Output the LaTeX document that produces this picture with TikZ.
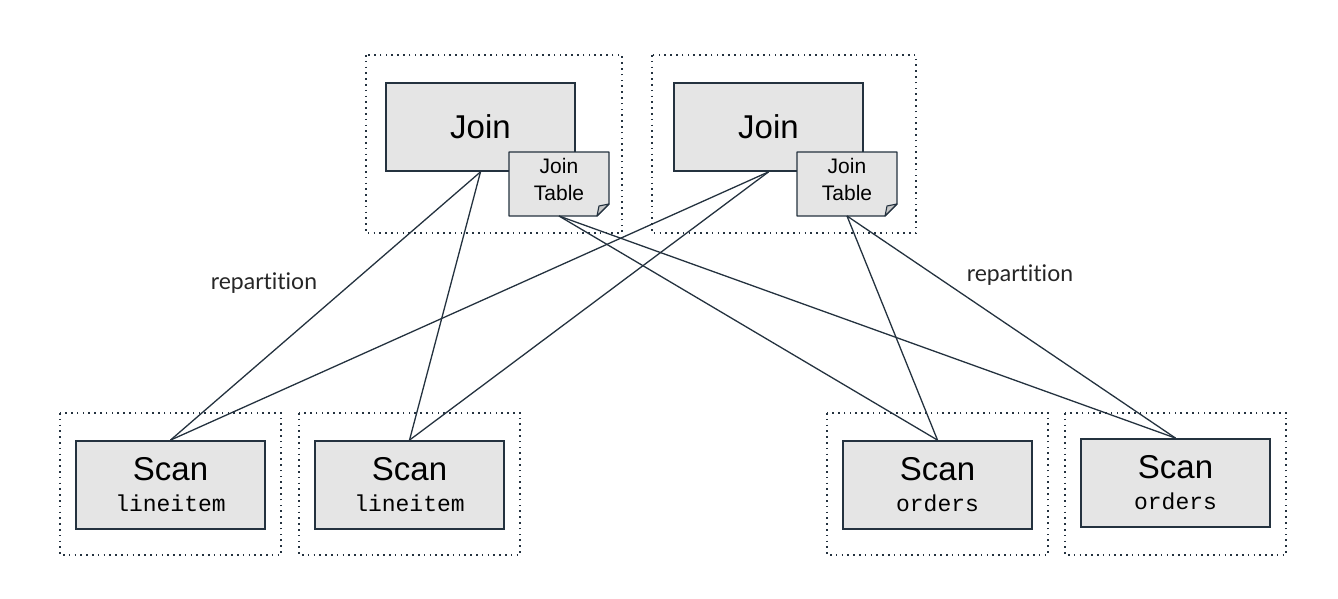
\documentclass[tikz,border=0pt]{standalone}
\usepackage{fontspec}
\setmainfont{Liberation Sans}
\newfontfamily\labelfont[Ligatures=NoCommon]{Lato}
\setmonofont{Liberation Mono}
\definecolor{ink}{HTML}{24323F}
\definecolor{boxfill}{HTML}{E5E5E5}
\definecolor{foldfill}{HTML}{C8C8C8}
\begin{document}
\begin{tikzpicture}[x=1pt,y=-1pt,
  frame/.style={draw=ink,line width=1.6pt,dash pattern=on 1.6pt off 4.2pt},
  opbox/.style={draw=ink,fill=boxfill,line width=1.8pt,minimum width=189pt,minimum height=88pt,inner sep=0pt,align=center},
  notetext/.style={inner sep=0pt,align=center,font=\fontsize{21pt}{27pt}\selectfont},
  conn/.style={draw=ink,line width=1.3pt},
  lbl/.style={font=\labelfont\fontsize{23pt}{26pt}\selectfont,text=black!85}
]
\useasboundingbox (0,0) rectangle (1338,599);
% frames
\draw[frame] (366,55) rectangle (622,233);
\draw[frame] (652,55) rectangle (916,233);
\draw[frame] (60,413) rectangle (281,555);
\draw[frame] (299,413) rectangle (520,555);
\draw[frame] (827,413) rectangle (1048,555);
\draw[frame] (1065,413) rectangle (1286,555);
% join boxes
\node[opbox,font=\fontsize{33pt}{36pt}\selectfont] (j1) at (480.5,127) {Join};
\node[opbox,font=\fontsize{33pt}{36pt}\selectfont] (j2) at (768.5,127) {Join};
% notes
\foreach \n/\x in {n1/509,n2/797}{
  \fill[boxfill] (\x,152) -- ++(100,0) -- ++(0,52) -- ++(-12,12) -- ++(-88,0) -- cycle;
  \draw[ink,line width=1.3pt,line join=round] (\x,152) -- ++(100,0) -- ++(0,52) -- ++(-12,12) -- ++(-88,0) -- cycle;
  \draw[ink,fill=foldfill,line width=1.1pt,line join=round] (\x+88,216) -- (\x+90,206) -- (\x+100,204) -- cycle;
  \coordinate (\n) at (\x+50,179);
}
\node[notetext] (t1) at (n1) {Join\\Table};
\node[notetext] (t2) at (n2) {Join\\Table};
\coordinate (b1) at (559,216);
\coordinate (b2) at (847,216);
% scan boxes
\tikzset{scantext/.style={font=\fontsize{33pt}{31pt}\selectfont}}
\node[opbox,scantext] (s1) at (170.5,485) {Scan\\\fontsize{23pt}{31pt}\selectfont\ttfamily lineitem};
\node[opbox,scantext] (s2) at (409.5,485) {Scan\\\fontsize{23pt}{31pt}\selectfont\ttfamily lineitem};
\node[opbox,scantext] (s3) at (937.5,485) {Scan\\\fontsize{23pt}{31pt}\selectfont\ttfamily orders};
\node[opbox,scantext] (s4) at (1175.5,483) {Scan\\\fontsize{23pt}{31pt}\selectfont\ttfamily orders};
% connectors
\draw[conn] (j1.south) -- (s1.north);
\draw[conn] (j1.south) -- (s2.north);
\draw[conn] (j2.south) -- (s1.north);
\draw[conn] (j2.south) -- (s2.north);
\draw[conn] (b1) -- (s3.north);
\draw[conn] (b1) -- (s4.north);
\draw[conn] (b2) -- (s3.north);
\draw[conn] (b2) -- (s4.north);
% labels
\node[lbl] (l1) at (264,283) {repartition};
\node[lbl] (l2) at (1020,275) {repartition};
\end{tikzpicture}
\end{document}
